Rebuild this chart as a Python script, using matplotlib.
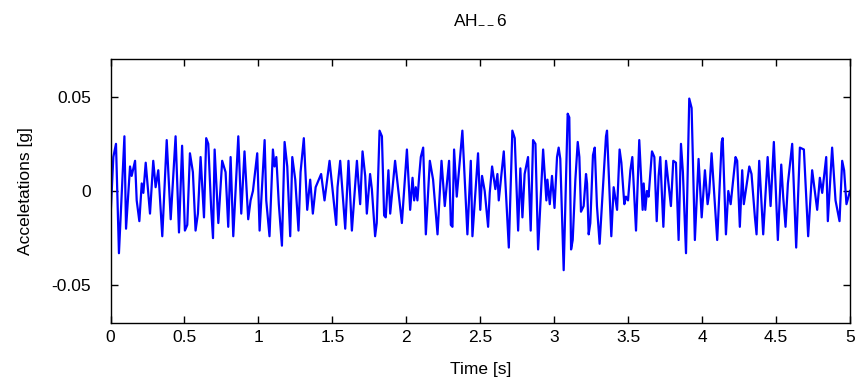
import numpy as np
import matplotlib
matplotlib.use('Agg')
import matplotlib.pyplot as plt

# peaks / troughs (time in s, acceleration in g)
t = [0.000, 0.019, 0.037, 0.057, 0.094, 0.105, 0.132, 0.143, 0.166, 0.177, 0.195, 0.211, 0.222, 0.238,
     0.267, 0.289, 0.305, 0.323, 0.350, 0.380, 0.407, 0.440, 0.463,
     0.484, 0.503, 0.519, 0.537, 0.557, 0.575, 0.591, 0.609, 0.632, 0.647, 0.661, 0.681, 0.693, 0.704,
     0.729, 0.755, 0.778, 0.796, 0.812, 0.830, 0.864, 0.884, 0.906, 0.931, 0.947, 0.963, 0.992, 1.008,
     1.042, 1.053, 1.075, 1.098, 1.109, 1.121, 1.138, 1.159, 1.177, 1.195, 1.215, 1.229, 1.249, 1.271,
     1.285, 1.307, 1.330, 1.350, 1.368, 1.387, 1.424, 1.447, 1.481,
     1.526, 1.535, 1.553, 1.587, 1.609, 1.632, 1.666, 1.677, 1.688, 1.704, 1.722, 1.733, 1.755, 1.767,
     1.789, 1.800, 1.819, 1.835, 1.850, 1.861, 1.879, 1.891, 1.924, 1.970, 2.004,
     2.026, 2.042, 2.053, 2.064, 2.075, 2.087, 2.098, 2.114, 2.132, 2.159, 2.181, 2.211, 2.238, 2.260,
     2.289, 2.301, 2.312, 2.323, 2.341, 2.379, 2.413, 2.436, 2.447,
     2.485, 2.500, 2.512, 2.530, 2.553, 2.564, 2.580, 2.602, 2.616, 2.625, 2.659, 2.693, 2.717, 2.733,
     2.756, 2.771, 2.785, 2.800, 2.823, 2.841, 2.857, 2.873, 2.891, 2.925, 2.947, 2.954, 2.970, 2.985,
     3.002, 3.019, 3.030, 3.041, 3.064, 3.091, 3.102, 3.114, 3.125, 3.143, 3.159, 3.170, 3.181, 3.199,
     3.215, 3.222, 3.233, 3.244, 3.262, 3.274, 3.289, 3.307, 3.350, 3.357, 3.386, 3.402, 3.425, 3.442,
     3.454, 3.474, 3.485, 3.499, 3.515,
     3.528, 3.553, 3.575, 3.598, 3.605, 3.616, 3.627, 3.638, 3.661, 3.677, 3.693, 3.706, 3.717, 3.738,
     3.756, 3.789, 3.805, 3.823, 3.841, 3.857, 3.870, 3.891, 3.913, 3.929, 3.951, 3.976, 3.997, 4.019,
     4.037, 4.048, 4.064, 4.102, 4.132, 4.139, 4.161, 4.177, 4.193, 4.226, 4.237, 4.255, 4.271, 4.282,
     4.319, 4.334, 4.357, 4.368, 4.386, 4.413, 4.443, 4.463, 4.485, 4.512, 4.535, 4.548, 4.564, 4.580,
     4.609, 4.636, 4.661, 4.688, 4.717, 4.744, 4.778, 4.796, 4.812, 4.839, 4.850, 4.879, 4.902, 4.929,
     4.947, 4.960, 4.976, 5.000]
acc = [-0.014, 0.018, 0.025, -0.033, 0.029, -0.020, 0.013, 0.008, 0.016, -0.005, -0.016, 0.004, -0.001, 0.015,
       -0.012, 0.016, 0.002, 0.011, -0.024, 0.027, -0.015, 0.029, -0.022,
       0.024, -0.021, -0.018, 0.020, 0.010, -0.021, -0.012, 0.018, -0.014, 0.028, 0.025, -0.010, -0.025, 0.022,
       -0.017, 0.016, 0.010, -0.019, 0.018, -0.024, 0.029, -0.012, 0.021, -0.015, -0.005, 0.000, 0.020, -0.021,
       0.027, -0.005, -0.024, 0.022, 0.013, 0.018, -0.007, -0.029, 0.026, 0.013, -0.024, 0.018, 0.006, -0.021,
       0.010, 0.028, -0.010, 0.006, -0.012, 0.002, 0.009, -0.005, 0.016,
       -0.018, 0.002, 0.016, -0.020, 0.016, -0.021, 0.016, 0.004, -0.007, 0.021, 0.008, -0.012, 0.009, 0.001,
       -0.024, -0.017, 0.032, 0.029, -0.013, -0.014, 0.011, -0.012, 0.016, -0.017, 0.022,
       -0.010, 0.007, -0.005, 0.002, -0.005, 0.008, 0.018, 0.023, -0.023, 0.016, 0.006, -0.023, 0.016, -0.008,
       0.016, -0.018, -0.019, 0.022, -0.003, 0.032, -0.023, 0.016, -0.024,
       0.020, -0.010, 0.008, 0.000, -0.019, -0.001, 0.013, 0.001, 0.009, -0.005, 0.021, -0.030, 0.032, 0.028,
       -0.021, 0.012, -0.014, 0.009, 0.018, -0.021, 0.027, 0.025, -0.031, 0.022, -0.005, 0.006, -0.007, 0.008,
       -0.009, 0.018, 0.023, 0.017, -0.042, 0.041, 0.039, -0.031, -0.026, 0.006, 0.026, 0.018, -0.011, -0.008,
       0.009, 0.004, -0.023, -0.017, 0.019, 0.023, -0.008, -0.028, 0.029, 0.032, -0.024, 0.002, -0.010, 0.022,
       0.015, -0.007, -0.003, -0.005, 0.011,
       0.018, -0.021, 0.027, -0.010, 0.004, -0.010, 0.000, -0.003, 0.021, 0.018, -0.016, 0.008, 0.018, -0.019,
       0.016, -0.008, 0.016, 0.015, -0.026, 0.025, 0.010, -0.033, 0.049, 0.044, -0.026, 0.017, -0.014, 0.011,
       -0.007, -0.001, 0.020, -0.026, 0.026, 0.028, -0.023, 0.000, -0.007, 0.018, 0.016, -0.019, 0.011, -0.007,
       0.013, 0.009, -0.014, -0.023, 0.016, -0.023, 0.018, -0.008, 0.026, -0.026, 0.014, -0.003, -0.019, 0.004,
       0.025, -0.030, 0.023, 0.022, -0.024, 0.011, -0.010, 0.007, -0.001, 0.018, -0.016, 0.023, -0.005, -0.016,
       0.016, 0.011, -0.007, 0.000]

xticks = [0, 0.5, 1, 1.5, 2, 2.5, 3, 3.5, 4, 4.5, 5]
yticks = [-0.05, 0, 0.05]
ytick_labels = ['-0.05', '0', '0.05']

plt.rcParams['font.family'] = ['Liberation Sans', 'DejaVu Sans']

fig = plt.figure(figsize=(8.58, 3.83), dpi=100)
ax = fig.add_axes([0.1288, 0.1567, 0.8619, 0.6893])
ax.plot(t, acc, color='#0000ff', linewidth=1.6)

ax.set_xlim(0, 5)
ax.set_ylim(-0.07, 0.07)
ax.set_xticks(xticks)
ax.set_xticklabels([('%g' % v) for v in xticks])
ax.set_yticks(yticks)
ax.set_yticklabels(ytick_labels)
ax.tick_params(direction='in', length=5, width=1, top=True, right=True, labelsize=12.5)
ax.tick_params(axis='x', pad=5)
ax.tick_params(axis='y', pad=14)
for s in ax.spines.values():
    s.set_linewidth(1)

ax.set_xlabel('Time [s]', fontsize=12.5, labelpad=12)
ax.set_ylabel('Acceletations [g]', fontsize=12.5, labelpad=13)
ax.set_title(r'AH$_{\mathregular{--}}$6', fontsize=12.5, pad=26)

fig.savefig('out.png', dpi=100)
